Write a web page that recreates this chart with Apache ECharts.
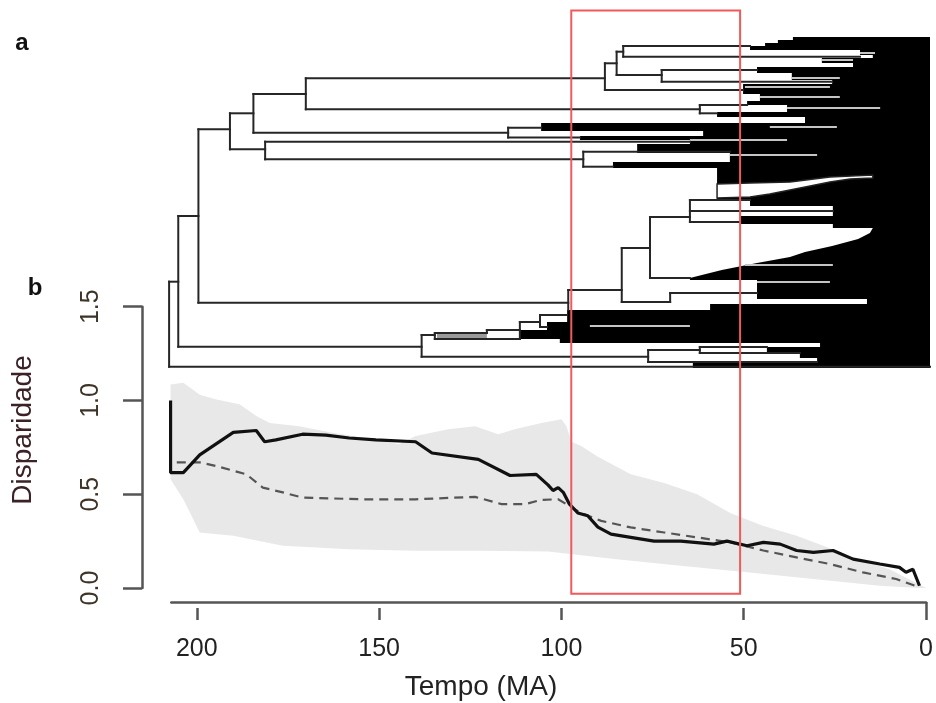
<!DOCTYPE html>
<html><head><meta charset="utf-8">
<script src="https://cdn.jsdelivr.net/npm/echarts@6/dist/echarts.min.js"></script>
<style>html,body{margin:0;padding:0;background:#fff}#c{width:936px;height:703px}</style>
</head><body><div id="c"></div>
<script>
// ---------- Panel b: disparity through time ----------
var solidT = [207.2,207.2,203.7,199.2,190.0,183.7,181.4,178.3,171.0,164.6,158.2,150.9,140.0,135.5,122.8,114.1,106.9,103.7,102.3,100.9,99.5,97.8,95.5,92.8,90.0,86.4,81.0,74.6,67.3,58.2,54.6,49.1,44.6,40.0,35.5,30.9,25.5,20.0,12.7,7.3,5.5,3.6,1.8];
var solidD = [1.00,0.615,0.615,0.71,0.83,0.84,0.78,0.79,0.82,0.815,0.80,0.79,0.78,0.72,0.686,0.60,0.606,0.55,0.52,0.535,0.51,0.447,0.40,0.385,0.325,0.287,0.27,0.25,0.25,0.234,0.25,0.225,0.243,0.234,0.20,0.19,0.20,0.154,0.128,0.11,0.084,0.10,0.012];
var dashT = [205.5,199.2,194.6,186.4,181.9,176.4,171.0,154.6,140.0,123.7,116.4,110.0,105.5,100.9,97.8,94.6,89.1,81.0,71.8,62.8,53.7,44.6,35.5,26.4,17.3,8.2,1.8];
var dashD = [0.67,0.67,0.65,0.606,0.535,0.51,0.482,0.473,0.473,0.486,0.447,0.447,0.47,0.473,0.437,0.40,0.358,0.323,0.296,0.27,0.243,0.20,0.163,0.128,0.083,0.048,0.004];
var upperT = [207.2,203.7,199.2,194.6,188.3,183.7,180.0,171.9,162.8,153.7,144.6,140.0,131.0,123.7,117.3,112.8,105.5,100.0,98.6,97.3,94.6,90.0,81.0,71.8,62.8,53.7,44.6,35.5,28.2,20.0,10.0,0];
var upperD = [1.085,1.094,1.03,1.005,0.98,0.917,0.88,0.863,0.828,0.80,0.766,0.81,0.846,0.863,0.82,0.846,0.88,0.90,0.863,0.78,0.757,0.70,0.606,0.56,0.50,0.40,0.33,0.278,0.225,0.16,0.10,0.0];
var lowerT = [207.2,203.7,199.2,190.0,176.4,158.2,140.0,121.9,103.7,85.5,67.3,49.1,30.9,12.7,1.8,0];
var lowerD = [0.58,0.473,0.296,0.278,0.225,0.207,0.198,0.198,0.195,0.154,0.119,0.084,0.048,0.012,0.0,0.0];
var xTicks = [0,50,100,150,200];
var windowT = [97.3, 51.0];       // highlighted time window (Ma)
var windowD = [-0.03, 3.08];      // its vertical extent in disparity units

// ---------- Panel a: phylogeny (time in Ma, tip-row position) ----------
var branchH = [ // [row, tStart, tEnd]
[244.7,207.6,205.1],[329.7,207.6,0],[179,205.1,199.6],[309.7,205.1,138.7],[92.3,199.6,191.0],
[265.7,199.6,98.7],[76.3,191.0,184.6],[112.3,191.0,181.4],[57,184.6,170.3],[95.7,184.6,115.1],
[41.3,170.3,88.7],[72.3,170.3,62.8],[26.3,88.7,85.5],[53,88.7,51.0],[14.7,85.5,83.7],
[38,85.5,73.2],[9,83.7,49.1],[19.7,83.7,19.1],[33,73.2,47.2],[44.7,73.2,26.7],
[68,62.8,49.9],[76.3,62.8,58.1],[90.7,115.1,106.1],[100.5,115.1,95.5],[104.7,181.4,65.5],
[122.3,181.4,94.6],[114.7,94.6,54.6],[129.7,94.6,86.5],[253,98.7,84.1],[211,84.1,76.4],
[265,84.1,70.9],[256,70.9,47.2],[180,76.4,65.5],[241,76.4,65.5],[163,65.5,49.1],
[174,65.5,26.5],[185,65.5,51.8],[319.7,138.7,76.9],[298,138.7,135.1],[296,135.1,120.9],
[302,135.1,111.9],[293,120.9,111.9],[285,111.9,106.4],[278,106.4,99.0],[290,106.4,104.5],
[313,76.9,62.8],[310,62.8,44.5],[316,62.8,35.5],[325,76.9,30.8]
];
var branchV = [ // [t, rowTop, rowBottom]
[207.6,244.7,329.7],[205.1,179,309.7],[199.6,92.3,265.7],[191.0,76.3,112.3],[184.6,57,95.7],
[170.3,41.3,72.3],[88.7,26.3,53],[85.5,14.7,38],[83.7,9,19.7],[73.2,33,44.7],[62.8,68,76.3],
[115.1,90.7,100.5],[181.4,104.7,122.3],[94.6,114.7,129.7],[98.7,253,273],[84.1,211,265],
[76.4,180,241],[65.5,163,185],[70.9,256,265],[138.7,298,319.7],[135.1,296,302],[120.9,293,296],
[111.9,285,302],[106.4,278,290],[76.9,313,325],[62.8,310,316]
];
var denseEdge = [ // left edge of the dense (black) crown of tips: [t, row]
[37.4,0],[37.4,3],[41.5,3],[41.5,6],[45.0,6],[45.0,9],[49.1,9],[49.1,13],[19.1,13],[19.1,18],[15.6,18],[15.6,21],
[29.5,21],[29.5,26],[21.0,26],[21.0,30],[47.2,30],[47.2,36],[37.7,36],[37.7,43],[26.7,43],[26.7,47],[51.0,47],[51.0,57],
[46.4,57],[46.4,64],[49.9,64],[49.9,68],[39.0,68],[39.0,75],[58.1,75],[58.1,80],[34.1,80],[34.1,86],[106.1,86],[106.1,94],
[61.9,94],[61.9,99],[95.5,99],[95.5,103],[65.5,103],[65.5,107],[79.9,107],[79.9,116],[54.6,116],[54.6,125],[86.5,125],[86.5,131],
[58.1,131],[58.1,163],[49.1,163],[49.1,169],[26.5,169],[26.5,179],[51.8,179],[51.8,187],[26.5,187],[26.5,191],[15.6,191],
[16.4,196],[19.6,202],[26.7,209],[34.1,215],[38.2,220],[47.2,226],[56.8,233],[65.5,241],[65.5,243],[47.2,243],[47.2,262],
[17.2,262],[17.2,267],[60.0,267],[60.0,273],[99.0,273],[99.0,285],[104.5,285],[104.5,293],[111.9,293],[111.9,302],
[101.0,302],[101.0,306],[30.0,306],[30.0,310],[44.5,310],[44.5,316],[35.5,316],[35.5,321],[30.8,321],[30.8,326],[64.7,326],[64.7,331]
];
var wedge = [[58.1,147],[49.1,146],[38.2,145],[27.3,140],[15.6,138],[15.6,141],[21.8,142],[27.3,145],[32.7,149],[38.2,153],[43.7,157],[49.1,160],[58.1,161]];
var tipLines = [ // [row, t1, t2]
[16,19.1,15.0],[23,29.5,21.0],[41,37.7,24.6],[50,50.5,27.3],[60,46.4,24.6],[71,39.0,13.6],
[90,43.7,25.4],[103,65.5,39.0],[118,54.6,30.8],[228,50.5,26.5],[245,47.2,27.3],[289,92.8,65.5]
];
var grayFill = [[297,301,134.5,120.9]];
var treeRows = 331;

function zip(a,b){return a.map(function(v,i){return [v,b[i]];});}
var FONT = '"Liberation Sans", Arial, sans-serif';
var chart = echarts.init(document.getElementById('c'));
var axisCol = '#555';

chart.setOption({
  animation:false,
  backgroundColor:'#fff',
  grid:[
    {left:171.3, right:6, top:37, height:331},
    {left:171.3, right:6, top:306.7, height:281.3}
  ],
  xAxis:[
    {gridIndex:0,type:'value',min:0,max:207,inverse:true,show:false},
    {gridIndex:1,type:'value',position:'bottom',min:0,max:207,inverse:true,offset:14,
     axisLine:{show:true,onZero:false,lineStyle:{color:axisCol,width:2.5}},
     axisTick:{show:true,customValues:[0],length:18,lineStyle:{color:axisCol,width:2.5}},
     axisLabel:{show:false},splitLine:{show:false}},
    {gridIndex:1,type:'value',position:'bottom',min:0,max:207,inverse:true,offset:20,
     axisLine:{show:false,onZero:false},
     axisTick:{show:true,customValues:xTicks,length:12,lineStyle:{color:axisCol,width:2.5}},
     axisLabel:{customValues:xTicks,fontSize:25,margin:29,color:'#222',fontFamily:FONT},
     splitLine:{show:false}}
  ],
  yAxis:[
    {gridIndex:0,type:'value',min:0,max:treeRows,inverse:true,show:false},
    {gridIndex:1,type:'value',position:'left',min:0,max:1.5,interval:0.5,offset:29.3,
     axisLine:{show:true,onZero:false,lineStyle:{color:axisCol,width:2.5}},
     axisTick:{show:true,length:19,lineStyle:{color:axisCol,width:2.5}},
     axisLabel:{rotate:90,fontSize:25,margin:38,color:'#3d3326',fontFamily:FONT,
       formatter:function(v){return v.toFixed(1);}},
     splitLine:{show:false}}
  ],
  graphic:[
    {type:'text',x:22,y:43,style:{text:'a',font:'bold 24px '+FONT,fill:'#111',align:'center',verticalAlign:'middle',textAlign:'center',textVerticalAlign:'middle'}},
    {type:'text',x:35,y:288,style:{text:'b',font:'bold 24px '+FONT,fill:'#111',align:'center',verticalAlign:'middle',textAlign:'center',textVerticalAlign:'middle'}},
    {type:'text',x:23,y:430,rotation:Math.PI/2,style:{text:'Disparidade',font:'28px '+FONT,fill:'#3a2226',align:'center',verticalAlign:'middle',textAlign:'center',textVerticalAlign:'middle'}},
    {type:'text',x:481,y:687,style:{text:'Tempo (MA)',font:'28px '+FONT,fill:'#222',align:'center',verticalAlign:'middle',textAlign:'center',textVerticalAlign:'middle'}}
  ],
  series:[
    {type:'custom',xAxisIndex:0,yAxisIndex:0,data:[[0,0]],silent:true,z:1,
     renderItem:function(p,api){
       var pts=denseEdge.map(function(q){return api.coord(q);});
       pts.push(api.coord([0,treeRows])); pts.push(api.coord([0,0]));
       return {type:'polygon',shape:{points:pts},style:{fill:'#000'}};
     }},
    {type:'custom',xAxisIndex:0,yAxisIndex:0,data:[[0,0]],silent:true,z:2,
     renderItem:function(p,api){
       var pts=wedge.map(function(q){return api.coord(q);});
       return {type:'polygon',shape:{points:pts},style:{fill:'#fff',stroke:'#222',lineWidth:1.5}};
     }},
    {type:'custom',xAxisIndex:0,yAxisIndex:0,data:grayFill,silent:true,z:2,
     renderItem:function(p,api){
       var a=api.coord([api.value(2),api.value(0)]), b=api.coord([api.value(3),api.value(1)]);
       return {type:'rect',shape:{x:a[0],y:a[1],width:b[0]-a[0],height:b[1]-a[1]},style:{fill:'#9a9a9a'}};
     }},
    {type:'custom',xAxisIndex:0,yAxisIndex:0,data:tipLines,silent:true,z:3,
     renderItem:function(p,api){
       var a=api.coord([api.value(1),api.value(0)]), b=api.coord([api.value(2),api.value(0)]);
       return {type:'line',shape:{x1:a[0],y1:a[1],x2:b[0],y2:b[1]},style:{stroke:'#c4c4c4',lineWidth:2}};
     }},
    {type:'custom',xAxisIndex:0,yAxisIndex:0,data:branchH,silent:true,z:4,
     renderItem:function(p,api){
       var a=api.coord([api.value(1),api.value(0)]), b=api.coord([api.value(2),api.value(0)]);
       return {type:'line',shape:{x1:a[0],y1:a[1],x2:b[0],y2:b[1]},style:{stroke:'#262626',lineWidth:2,lineCap:'square'}};
     }},
    {type:'custom',xAxisIndex:0,yAxisIndex:0,data:branchV,silent:true,z:4,
     renderItem:function(p,api){
       var a=api.coord([api.value(0),api.value(1)]), b=api.coord([api.value(0),api.value(2)]);
       return {type:'line',shape:{x1:a[0],y1:a[1],x2:b[0],y2:b[1]},style:{stroke:'#262626',lineWidth:2,lineCap:'square'}};
     }},
    {type:'custom',xAxisIndex:1,yAxisIndex:1,data:[[0,0]],silent:true,z:1,
     renderItem:function(p,api){
       var pts=zip(upperT,upperD).map(function(q){return api.coord(q);});
       var low=zip(lowerT,lowerD).reverse().map(function(q){return api.coord(q);});
       return {type:'polygon',shape:{points:pts.concat(low)},style:{fill:'#e8e8e8'}};
     }},
    {type:'line',xAxisIndex:1,yAxisIndex:1,data:zip(dashT,dashD),symbol:'none',z:3,
     lineStyle:{color:'#555',width:2.2,type:[9,6]}},
    {type:'line',xAxisIndex:1,yAxisIndex:1,data:zip(solidT,solidD),symbol:'none',z:4,
     lineStyle:{color:'#111',width:3.2}},
    {type:'custom',xAxisIndex:1,yAxisIndex:1,data:[[0,0]],silent:true,z:10,
     renderItem:function(p,api){
       var a=api.coord([windowT[0],windowD[1]]), b=api.coord([windowT[1],windowD[0]]);
       return {type:'rect',shape:{x:a[0],y:a[1],width:b[0]-a[0],height:b[1]-a[1]},style:{fill:'none',stroke:'#f05a5a',lineWidth:2}};
     }}
  ]
});
</script></body></html>
